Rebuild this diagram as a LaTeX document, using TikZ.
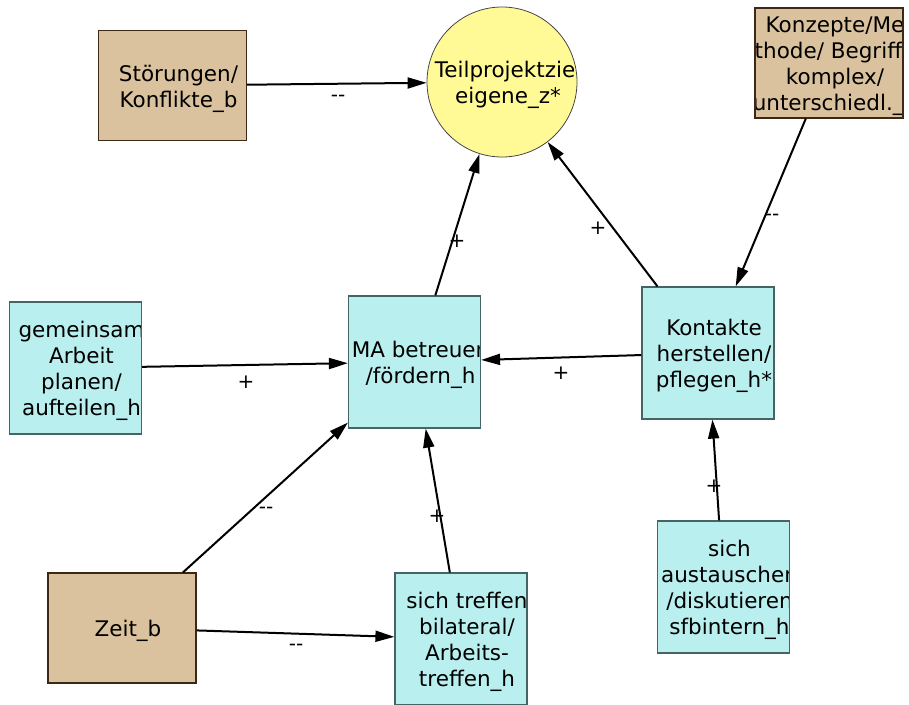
\documentclass[tikz,border=0pt]{standalone}
\usepackage{fontspec}
\setmainfont{DejaVu Sans}
\usetikzlibrary{arrows.meta}
\definecolor{cyanfill}{RGB}{186,239,239}
\definecolor{cyanline}{RGB}{70,100,100}
\definecolor{tanfill}{RGB}{219,194,158}
\definecolor{tanline}{RGB}{60,40,20}
\definecolor{yelfill}{RGB}{255,250,150}
\definecolor{yelline}{RGB}{70,70,70}
\tikzset{
  txt/.style={align=center, font=\fontsize{21.5}{26}\selectfont, inner sep=0pt},
  base/.style={inner sep=0pt, line width=1.2pt,
    path picture={\node[txt] at ([xshift=6pt,yshift=-3pt]path picture bounding box.center) {#1};}},
  cyanbox/.style={rectangle, base={#1}, fill=cyanfill, draw=cyanline, minimum width=132pt, minimum height=132pt},
  tanbox/.style={rectangle, base={#1}, fill=tanfill, draw=tanline, minimum width=148pt, minimum height=110pt},
  goal/.style={circle, base={#1}, fill=yelfill, draw=yelline, line width=0.8pt, minimum size=150pt},
  conn/.style={line width=2pt, -{Triangle[length=19pt,width=11pt]}},
  sign/.style={font=\fontsize{20}{20}\selectfont, inner sep=0pt}
}
\begin{document}
\begin{tikzpicture}[x=1pt,y=-1pt]
\useasboundingbox (0,0) rectangle (909,704);
% nodes
\node[tanbox={Störungen/\\Konflikte\_b}] (st) at (172.5,85.5) {};
\node[goal={Teilprojektziel\\eigene\_z*}] (tz) at (502,82) {};
\node[tanbox={Konzepte/Me\\thode/ Begriffe\\komplex/\\unterschiedl.\_b}] (ko) at (829,63) {};
\node[cyanbox={MA betreuen\\/fördern\_h}] (ma) at (414.5,362) {};
\node[cyanbox={Kontakte\\herstellen/\\pflegen\_h*}] (kh) at (708,353) {};
\node[cyanbox={gemeinsam\\Arbeit\\planen/\\aufteilen\_h}] (ge) at (75.5,368) {};
\node[tanbox={Zeit\_b}] (ze) at (122,628) {};
\node[cyanbox={sich treffen\\bilateral/\\Arbeits-\\treffen\_h}] (tr) at (461,639) {};
\node[cyanbox={sich\\austauschen\\/diskutieren\\sfbintern\_h}] (au) at (723.5,587) {};
% connectors
\draw[conn] (st) -- (tz);
\draw[conn] (ma) -- (tz);
\draw[conn] (kh) -- (tz);
\draw[conn] (ko) -- (kh);
\draw[conn] (ge) -- (ma);
\draw[conn] (kh) -- (ma);
\draw[conn] (ze) -- (ma);
\draw[conn] (tr) -- (ma);
\draw[conn] (ze) -- (tr);
\draw[conn] (au) -- (kh);
% labels
\node[sign] (l1) at (338,98) {-{}-};
\node[sign] (l2) at (457,241) {+};
\node[sign] (l3) at (598,228) {+};
\node[sign] (l4) at (772,217) {-{}-};
\node[sign] (l5) at (246,382) {+};
\node[sign] (l6) at (561,373) {+};
\node[sign] (l7) at (266,510) {-{}-};
\node[sign] (l8) at (437,516) {+};
\node[sign] (l9) at (296,647) {-{}-};
\node[sign] (l10) at (714,486) {+};
\end{tikzpicture}
\end{document}
